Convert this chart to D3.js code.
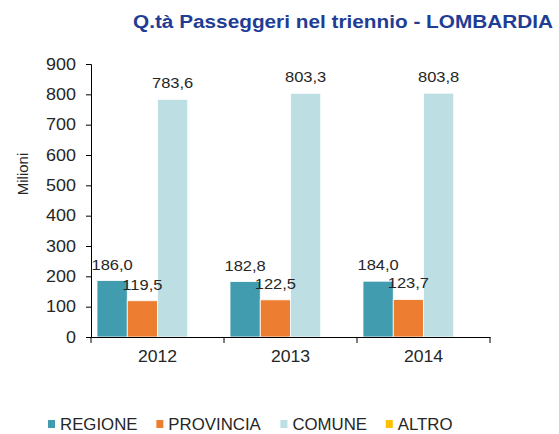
<!DOCTYPE html>
<html lang="it">
<head>
<meta charset="UTF-8">
<title>Q.tà Passeggeri nel triennio - LOMBARDIA</title>
<script src="https://d3js.org/d3.v7.min.js"></script>
<style>
  body { margin: 0; background: #fff; }
  svg text { font-family: "Liberation Sans", Arial, sans-serif; fill: #262626; }
</style>
</head>
<body>
<div id="chart"></div>
<script>
// data
const years = ["2012", "2013", "2014"];
const series = ["REGIONE", "PROVINCIA", "COMUNE", "ALTRO"];
const regione = [186.0, 182.8, 184.0];
const provincia = [119.5, 122.5, 123.7];
const comune = [783.6, 803.3, 803.8];
const altro = [0, 0, 0];
const yTicks = [0, 100, 200, 300, 400, 500, 600, 700, 800, 900];
const colors = ["#409cae", "#ed7d31", "#bddfe4", "#ffc000"];

const width = 559, height = 434;
const values = [regione, provincia, comune, altro];

const svg = d3.select("#chart").append("svg")
  .attr("width", width)
  .attr("height", height);

// the reference text is a little wider than Arial, stretch it horizontally
function stretch(sel, k) {
  sel.each(function () {
    const len = this.getComputedTextLength();
    d3.select(this)
      .attr("textLength", len * k)
      .attr("lengthAdjust", "spacingAndGlyphs");
  });
}

// scales
const x0 = d3.scaleBand().domain(years).range([91, 490]);
const x1 = d3.scaleBand().domain(series).range([6, x0.bandwidth() - 6]);
const y = d3.scaleLinear().domain([0, 900]).range([337, 64]);
const color = d3.scaleOrdinal().domain(series).range(colors);

// title
svg.append("text")
  .attr("x", 553)
  .attr("y", 28)
  .attr("text-anchor", "end")
  .style("font-size", "18px")
  .style("font-weight", "bold")
  .style("fill", "#1f3d94")
  .text("Q.tà Passeggeri nel triennio - LOMBARDIA")
  .call(sel => sel.attr("textLength", 420).attr("lengthAdjust", "spacingAndGlyphs"));

// y axis
const yAxis = svg.append("g")
  .attr("transform", "translate(91,0)")
  .call(d3.axisLeft(y).tickValues(yTicks).tickSize(5).tickPadding(10).tickFormat(d3.format("d")));
yAxis.selectAll("text").style("font-size", "16px").call(stretch, 1.12);

svg.append("text")
  .attr("transform", "translate(23,174) rotate(-90)")
  .attr("text-anchor", "middle")
  .attr("dy", "0.35em")
  .style("font-size", "15px")
  .text("Milioni");

// bars
const groups = svg.append("g").selectAll("g")
  .data(years)
  .join("g")
  .attr("transform", d => `translate(${x0(d)},0)`);

const fmt = v => d3.format(".1f")(v).replace(".", ",");

series.forEach((s, si) => {
  groups.append("rect")
    .attr("x", x1(s))
    .attr("width", x1.bandwidth())
    .attr("y", (d, i) => y(values[si][i]))
    .attr("height", (d, i) => y(0) - y(values[si][i]))
    .attr("fill", color(s))
    .attr("stroke", "#fff")
    .attr("stroke-width", 0.8);
});

// value labels go on top of all bars
series.forEach((s, si) => {
  if (s === "ALTRO") return;
  groups.append("text")
    .attr("x", x1(s) + x1.bandwidth() / 2)
    .attr("y", (d, i) => y(values[si][i]) - 11)
    .attr("text-anchor", "middle")
    .style("font-size", "15px")
    .text((d, i) => fmt(values[si][i]))
    .call(stretch, 1.1);
});

// x axis
const xAxis = svg.append("g")
  .attr("transform", "translate(0,337)")
  .call(d3.axisBottom(x0).tickSize(0).tickPadding(14));
xAxis.selectAll("text").style("font-size", "16px").call(stretch, 1.1);
xAxis.selectAll(".sep")
  .data(x0.domain().concat(["end"]))
  .join("line")
  .attr("class", "sep")
  .attr("x1", d => d === "end" ? x0.range()[1] : x0(d))
  .attr("x2", d => d === "end" ? x0.range()[1] : x0(d))
  .attr("y1", 0)
  .attr("y2", 6)
  .attr("stroke", "#000");
svg.selectAll(".domain").attr("stroke", "#000");
svg.selectAll(".tick line").attr("stroke", "#000");

// legend: items laid out left to right with an even gap
const legend = svg.append("g").attr("transform", "translate(0,424)");
let lx = 48;
series.forEach(s => {
  const item = legend.append("g").attr("transform", `translate(${lx},0)`);
  item.append("rect")
    .attr("x", 0)
    .attr("y", -4)
    .attr("width", 7)
    .attr("height", 8)
    .attr("fill", color(s));
  const t = item.append("text")
    .attr("x", 12)
    .attr("y", 0)
    .attr("dy", "0.35em")
    .style("font-size", "16px")
    .text(s)
    .call(stretch, 1.05);
  lx += 12 + t.node().getComputedTextLength() * 1.05 + 15;
});
</script>
</body>
</html>
